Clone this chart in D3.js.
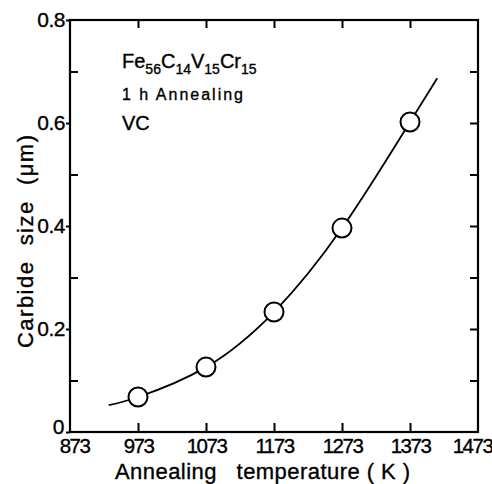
<!DOCTYPE html>
<html>
<head>
<meta charset="utf-8">
<script src="https://cdn.jsdelivr.net/npm/d3@7"></script>
<style>
  html, body { margin: 0; padding: 0; background: #fff; }
  svg { display: block; font-family: 'Liberation Sans', Arial, sans-serif; }
  svg text { stroke: #000; stroke-width: 0.35px; }
  .domain { display: none; }
</style>
</head>
<body>
<div id="container"></div>
<script>
// measured points
const temps = [973, 1073, 1173, 1273, 1373];
const sizes = [0.068, 0.126, 0.233, 0.396, 0.602];
// fitted curve drawn through the points
const curveTemps = [930, 973, 1073, 1173, 1273, 1373, 1413];
const curveSizes = [0.052, 0.068, 0.126, 0.233, 0.396, 0.602, 0.687];
const xTicks = [873, 973, 1073, 1173, 1273, 1373, 1473];
const yTicks = [0, 0.2, 0.4, 0.6, 0.8];
const yMinor = [0.1, 0.3, 0.5, 0.7];

const width = 492, height = 484;
const margin = { top: 20, right: 14, bottom: 52, left: 70 };
const plotW = width - margin.left - margin.right;
const plotH = height - margin.top - margin.bottom;

const svg = d3.select('#container').append('svg')
  .attr('width', width)
  .attr('height', height);

const g = svg.append('g')
  .attr('transform', `translate(${margin.left}, ${margin.top})`);

const x = d3.scaleLinear().domain([873, 1473]).range([0, plotW]);
const y = d3.scaleLinear().domain([0, 0.8]).range([plotH, 0]);

function styleTicks(sel) {
  sel.selectAll('line').attr('stroke', '#000').attr('stroke-width', 2);
  sel.selectAll('text').attr('fill', '#000');
}

// left axis: labels + short outward major ticks
g.append('g')
  .call(d3.axisLeft(y).tickValues(yTicks).tickSize(4).tickPadding(1)
    .tickFormat((d) => d === 0 ? '0' : d3.format('.1f')(d)))
  .call(styleTicks)
  .selectAll('text')
  .style('font-size', '21px')
  .style('letter-spacing', '-0.5px')
  .attr('x', (d) => d === 0 ? -6 : -5)
  .attr('dy', (d) => d === 0 ? '0.05em' : '0.32em');

// left axis minor ticks, inward
g.append('g')
  .call(d3.axisRight(y).tickValues(yMinor).tickSize(8).tickFormat(''))
  .call(styleTicks);

// right axis ticks, inward
g.append('g')
  .attr('transform', `translate(${plotW}, 0)`)
  .call(d3.axisLeft(y).tickValues(yMinor.concat([0.2, 0.4, 0.6])).tickSize(8).tickFormat(''))
  .call(styleTicks);

// top axis ticks, inward
g.append('g')
  .call(d3.axisBottom(x).tickValues(xTicks.slice(1, -1)).tickSize(8).tickFormat(''))
  .call(styleTicks);

// bottom axis ticks, inward
g.append('g')
  .attr('transform', `translate(0, ${plotH})`)
  .call(d3.axisTop(x).tickValues(xTicks.slice(1, -1)).tickSize(9).tickFormat(''))
  .call(styleTicks);

// bottom labels
g.append('g')
  .attr('transform', `translate(0, ${plotH})`)
  .call(d3.axisBottom(x).tickValues(xTicks).tickSize(0).tickPadding(6).tickFormat(d3.format('d')))
  .call(styleTicks)
  .selectAll('text')
  .style('font-size', '20.5px')
  .style('letter-spacing', '-1.5px')
  .attr('x', (d) => d === 873 ? 4 : d === 1473 ? -6 : 0);

// frame
g.append('rect')
  .attr('width', plotW)
  .attr('height', plotH)
  .attr('fill', 'none')
  .attr('stroke', '#000')
  .attr('stroke-width', 2.2);

// curve
const line = d3.line()
  .x((d, i) => x(curveTemps[i]))
  .y((d) => y(d))
  .curve(d3.curveNatural);

g.append('path')
  .datum(curveSizes)
  .attr('d', line)
  .attr('fill', 'none')
  .attr('stroke', '#000')
  .attr('stroke-width', 1.8);

// points
g.selectAll('circle')
  .data(sizes)
  .enter()
  .append('circle')
  .attr('cx', (d, i) => x(temps[i]))
  .attr('cy', (d) => y(d))
  .attr('r', 9.5)
  .attr('fill', '#fff')
  .attr('stroke', '#000')
  .attr('stroke-width', 2);

// annotation
const note = g.append('text')
  .attr('x', 52)
  .attr('y', 48)
  .style('font-size', '20px');
note.append('tspan').text('Fe');
note.append('tspan').attr('dy', 6).style('font-size', '14px').text('56');
note.append('tspan').attr('dy', -6).text('C');
note.append('tspan').attr('dy', 6).style('font-size', '14px').text('14');
note.append('tspan').attr('dy', -6).text('V');
note.append('tspan').attr('dy', 6).style('font-size', '14px').text('15');
note.append('tspan').attr('dy', -6).text('Cr');
note.append('tspan').attr('dy', 6).style('font-size', '14px').text('15');

g.append('text')
  .attr('x', 52)
  .attr('y', 80)
  .style('font-size', '16px')
  .attr('textLength', 121)
  .attr('lengthAdjust', 'spacing')
  .attr('xml:space', 'preserve')
  .text('1 h Annealing');

g.append('text')
  .attr('x', 52)
  .attr('y', 110)
  .style('font-size', '20px')
  .text('VC');

// axis titles
svg.append('text')
  .attr('x', 115)
  .attr('y', 479)
  .style('font-size', '22px')
  .attr('textLength', 295)
  .attr('lengthAdjust', 'spacing')
  .attr('xml:space', 'preserve')
  .text('Annealing   temperature ( K )');

svg.append('text')
  .attr('transform', 'rotate(-90)')
  .attr('x', -348)
  .attr('y', 33)
  .style('font-size', '22px')
  .attr('textLength', 213)
  .attr('lengthAdjust', 'spacing')
  .attr('xml:space', 'preserve')
  .text('Carbide  size  (\u03bcm)');
</script>
</body>
</html>
